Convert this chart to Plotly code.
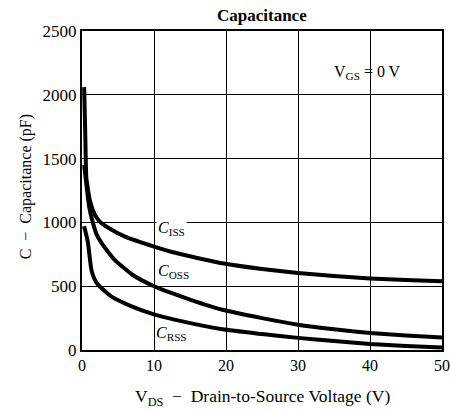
import plotly.graph_objects as go

# Data
ciss_x = [0.3, 0.45, 0.6, 0.85, 1.1, 1.75, 2.4, 3.6, 5.9, 10, 12.5, 15, 19.5, 25, 30, 35, 40, 45, 50]
ciss_y = [2060, 1700, 1350, 1250, 1170, 1065, 1010, 960, 890, 810, 768, 735, 680, 635, 604, 580, 561, 548, 539]

coss_x = [0.3, 0.6, 1.0, 1.5, 2.0, 2.7, 4.5, 7, 10, 12.5, 15, 19.5, 25, 30, 35, 40, 45, 50]
coss_y = [1450, 1300, 1120, 1000, 910, 839, 709, 590, 500, 445, 395, 315, 250, 198, 162, 133, 113, 97]

crss_x = [0.28, 0.5, 0.83, 1.3, 1.7, 2.2, 4, 6.8, 10, 12.7, 19.5, 25, 30, 35, 40, 45, 50]
crss_y = [970, 925, 839, 630, 560, 513, 422, 344, 279, 240, 162, 125, 95, 70, 47, 32, 19]

series_labels = ["<i>C</i><sub>ISS</sub>", "<i>C</i><sub>OSS</sub>", "<i>C</i><sub>RSS</sub>"]
label_x = [12.45, 12.7, 12.4]
label_y = [950, 615, 132]
label_bg = ["white", "white", "rgba(0,0,0,0)"]

x_ticks = [0, 10, 20, 30, 40, 50]
y_ticks = [0, 500, 1000, 1500, 2000, 2500]

SERIF = "Liberation Serif, Times New Roman, serif"

fig = go.Figure()
for xs, ys in [(ciss_x, ciss_y), (coss_x, coss_y), (crss_x, crss_y)]:
    fig.add_trace(go.Scatter(x=xs, y=ys, mode="lines",
                             line=dict(color="black", width=4, shape="spline", smoothing=0.5),
                             showlegend=False, hoverinfo="skip"))

for t, lx, ly, bg in zip(series_labels, label_x, label_y, label_bg):
    fig.add_annotation(x=lx, y=ly, text=t, showarrow=False, xref="x", yref="y",
                       font=dict(family=SERIF, size=16, color="black"),
                       bgcolor=bg, borderpad=1)

fig.add_annotation(x=39.7, y=2177, text="V<sub>GS</sub> = 0 V", showarrow=False,
                   xref="x", yref="y", font=dict(family=SERIF, size=16, color="black"))

fig.add_annotation(x=0.5, y=1.0, xref="paper", yref="paper", yshift=16, yanchor="middle",
                   text="<b>Capacitance</b>", showarrow=False,
                   font=dict(family=SERIF, size=17, color="black"))

fig.add_annotation(x=-0.186, y=0.51, xref="paper", yref="paper", textangle=-90,
                   text="C  −  Capacitance (pF)", showarrow=False,
                   font=dict(family=SERIF, size=16, color="black"))

fig.add_annotation(x=0.5, y=0, xref="paper", yref="paper", yshift=-47, yanchor="middle",
                   text="V<sub>DS</sub>  −  Drain-to-Source Voltage (V)", showarrow=False,
                   font=dict(family=SERIF, size=17.5, color="black"))

fig.update_layout(
    width=450, height=411,
    margin=dict(l=82, r=8, t=31, b=61, autoexpand=False),
    paper_bgcolor="white", plot_bgcolor="white",
    font=dict(family=SERIF, size=14, color="black"),
    xaxis=dict(range=[0, 50], tickvals=x_ticks, showgrid=True, gridcolor="black", gridwidth=1,
               zeroline=False, showline=True, linecolor="black", linewidth=2, mirror=True,
               automargin=False, ticks="", tickfont=dict(family=SERIF, size=16)),
    yaxis=dict(range=[0, 2500], tickvals=y_ticks, showgrid=True, gridcolor="black", gridwidth=1,
               zeroline=False, showline=True, linecolor="black", linewidth=2, mirror=True,
               automargin=False, ticks="", tickfont=dict(family=SERIF, size=17)),
)

fig.write_html("out.html", config={"displayModeBar": False},
               post_script="document.body.style.margin='0';document.body.style.overflow='hidden';")
